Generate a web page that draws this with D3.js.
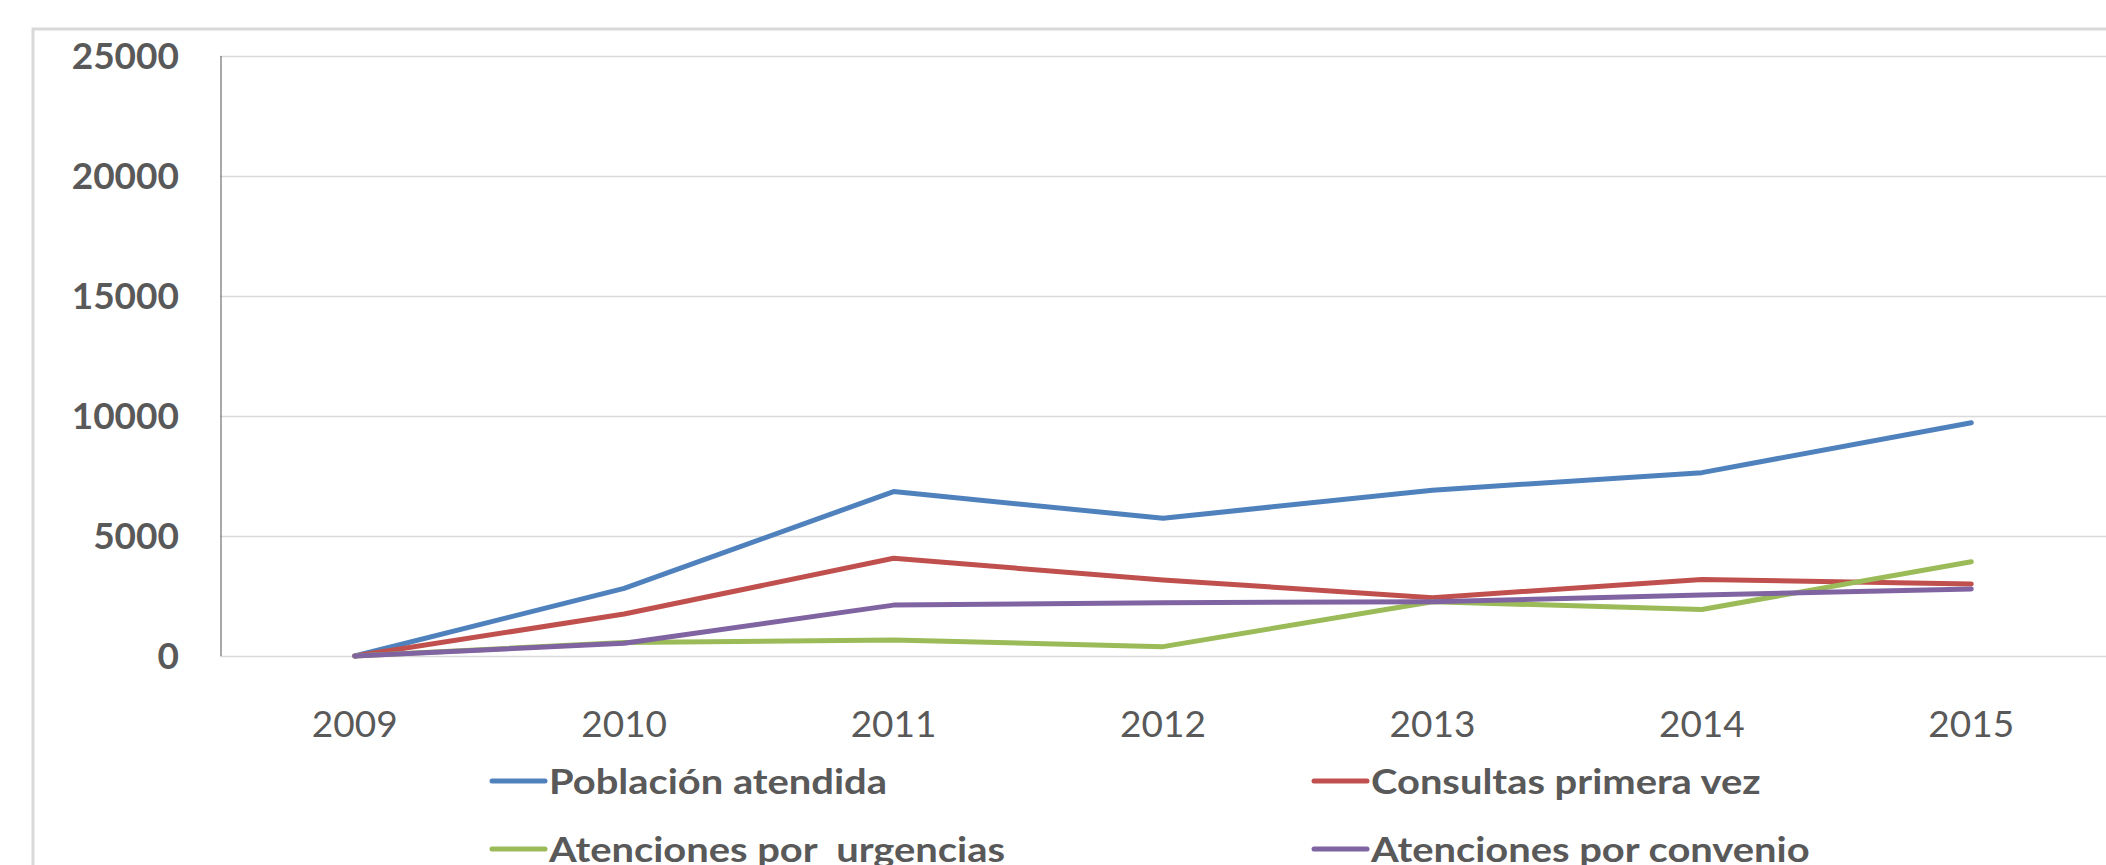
<!DOCTYPE html>
<html>
<head>
<meta charset="utf-8">
<script src="https://cdn.jsdelivr.net/npm/d3@7"></script>
<style>
    body { margin: 0; background: #ffffff; }
    svg { display: block; font-family: Lato, "Open Sans", sans-serif; }
</style>
</head>
<body>
<div id="chart"></div>
<script>
// Chart data
const years = ['2009', '2010', '2011', '2012', '2013', '2014', '2015'];
const y_ticks = [0, 5000, 10000, 15000, 20000, 25000];
const series_names = ['Población atendida', 'Consultas primera vez', 'Atenciones por  urgencias', 'Atenciones por convenio'];
const poblacion_atendida = [0, 2820, 6850, 5740, 6910, 7640, 9720];
const consultas_primera_vez = [0, 1750, 4070, 3170, 2430, 3190, 3000];
const atenciones_urgencias = [0, 560, 670, 390, 2260, 1940, 3930];
const atenciones_convenio = [0, 530, 2120, 2220, 2260, 2540, 2790];
const series_colors = ['#4f81bd', '#c0504d', '#9bbb59', '#8064a2'];

// Attributes of the SVG
let attributes = {
    width: 2106,
    height: 865,
    plot: {left: 220, right: 2106, top: 56, bottom: 656},
    text_color: '#595959',
    grid_color: '#d9d9d9'
};

let series = [poblacion_atendida, consultas_primera_vez, atenciones_urgencias, atenciones_convenio]
    .map((values, i) => ({name: series_names[i], color: series_colors[i], values: values}));

let svg = d3.select('#chart')
    .append('svg')
    .attr('width', attributes.width)
    .attr('height', attributes.height);

svg.append('rect')
    .attr('width', attributes.width)
    .attr('height', attributes.height)
    .attr('fill', '#ffffff');

// Outer chart border (runs off the right and bottom edges)
svg.append('rect')
    .attr('x', 33)
    .attr('y', 29)
    .attr('width', attributes.width)
    .attr('height', attributes.height)
    .attr('fill', 'none')
    .attr('stroke', attributes.grid_color)
    .attr('stroke-width', 3);

// Scales
let x_scale = d3.scaleBand()
    .domain(years)
    .range([attributes.plot.left, attributes.plot.right]);
let x_point = d => x_scale(d) + x_scale.bandwidth() / 2;

let y_scale = d3.scaleLinear()
    .domain([0, 25000])
    .range([attributes.plot.bottom, attributes.plot.top]);

// Gridlines
let grid = svg.append('g')
    .attr('class', 'grid')
    .attr('transform', 'translate(' + attributes.plot.left + ',0)')
    .call(d3.axisLeft(y_scale)
        .tickValues(y_ticks)
        .tickSize(-(attributes.plot.right - attributes.plot.left))
        .tickFormat(''));
grid.select('.domain').remove();
grid.selectAll('line')
    .attr('stroke', attributes.grid_color)
    .attr('stroke-width', 1.5);

// Y axis line
svg.append('line')
    .attr('x1', attributes.plot.left + 1)
    .attr('x2', attributes.plot.left + 1)
    .attr('y1', attributes.plot.top)
    .attr('y2', attributes.plot.bottom)
    .attr('stroke', '#6e6e6e')
    .attr('stroke-width', 1.2);

// Y tick labels
svg.append('g')
    .selectAll('text')
    .data(y_ticks)
    .join('text')
    .attr('x', 179)
    .attr('y', d => y_scale(d))
    .attr('dy', '0.36em')
    .attr('text-anchor', 'end')
    .attr('font-size', 37)
    .attr('font-weight', 'bold')
    .attr('fill', attributes.text_color)
    .text(d => d);

// X tick labels
svg.append('g')
    .selectAll('text')
    .data(years)
    .join('text')
    .attr('x', d => x_point(d))
    .attr('y', 737)
    .attr('text-anchor', 'middle')
    .attr('font-size', 37)
    .attr('fill', attributes.text_color)
    .text(d => d);

// Lines
let line = d3.line()
    .x((d, i) => x_point(years[i]))
    .y(d => y_scale(d));

svg.append('g')
    .selectAll('path')
    .data(series)
    .join('path')
    .attr('d', d => line(d.values))
    .attr('fill', 'none')
    .attr('stroke', d => d.color)
    .attr('stroke-width', 5)
    .attr('stroke-linejoin', 'round')
    .attr('stroke-linecap', 'round');

// Legend, two columns by two rows
let legend_cols = [492, 1314];
let legend_rows = [781, 849];

let legend = svg.append('g')
    .selectAll('g')
    .data(series)
    .join('g')
    .attr('transform', (d, i) => 'translate(' + legend_cols[i % 2] + ',' + legend_rows[Math.floor(i / 2)] + ')');

legend.append('line')
    .attr('x1', 0)
    .attr('x2', 53)
    .attr('stroke', d => d.color)
    .attr('stroke-width', 5)
    .attr('stroke-linecap', 'round');

// Text is widened a little to match the stretched original
legend.append('g')
    .attr('transform', 'translate(57,0) scale(1.14,1)')
    .append('text')
    .attr('dy', '0.36em')
    .attr('font-size', 35)
    .attr('font-weight', 'bold')
    .attr('fill', attributes.text_color)
    .style('white-space', 'pre')
    .text(d => d.name);
</script>
</body>
</html>
